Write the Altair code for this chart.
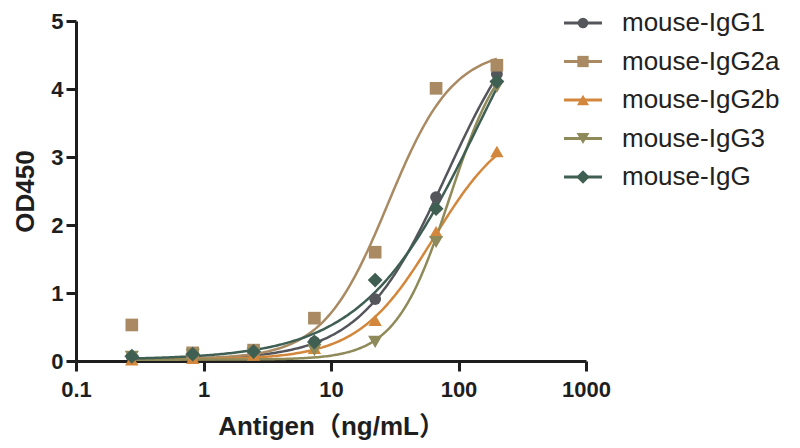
import altair as alt
import pandas as pd

# ---- data ----
series = ["mouse-IgG1", "mouse-IgG2a", "mouse-IgG2b", "mouse-IgG3", "mouse-IgG"]
conc = [0.274, 0.823, 2.47, 7.41, 22.2, 66.7, 200]
igg1 = [0.06, 0.10, 0.15, 0.28, 0.91, 2.41, 4.22]
igg2a = [0.53, 0.12, 0.16, 0.63, 1.60, 4.01, 4.35]
igg2b = [0.02, 0.04, 0.09, 0.19, 0.60, 1.90, 3.08]
igg3 = [0.06, 0.09, 0.11, 0.16, 0.28, 1.75, 4.03]
igg = [0.07, 0.10, 0.14, 0.28, 1.19, 2.24, 4.11]

# four-parameter logistic fit parameters (estimated from the drawn curves)
fit_bottom = [0.02, 0.03, 0.02, 0.02, 0.02]
fit_top = [5.5, 4.6, 3.6, 4.8, 7.0]
fit_ec50 = [81.5, 28.0, 64.0, 85.6, 147.0]
fit_hill = [1.28, 1.70, 1.46, 2.04, 0.95]
fit_xmin = [0.274] * 5
fit_xmax = [200] * 5

colors = ["#54565c", "#a98a63", "#d3873c", "#8e8a59", "#3f5f53"]
shapes = ["circle", "square", "triangle-up", "triangle-down", "diamond"]
sizes = [140, 220, 180, 180, 240]

x_ticks = [0.1, 1, 10, 100, 1000]
y_ticks = [0, 1, 2, 3, 4, 5]

FONT = "Liberation Sans, Arial, Noto Sans CJK SC"
INK = "#1e1e1e"

# ---- tables ----
vals = [igg1, igg2a, igg2b, igg3, igg]
rows = []
for s, v in zip(series, vals):
    for c, y in zip(conc, v):
        rows.append({"series": s, "conc": c, "od": y})
points_df = pd.DataFrame(rows)

params_df = pd.DataFrame({
    "series": series, "bottom": fit_bottom, "top": fit_top,
    "ec50": fit_ec50, "hill": fit_hill, "xmin": fit_xmin, "xmax": fit_xmax,
})
legend_df = pd.DataFrame({"series": series})

color = alt.Color("series:N", scale=alt.Scale(domain=series, range=colors), legend=None)

xscale = alt.Scale(type="log", domain=[0.1, 1000])
yscale = alt.Scale(domain=[0, 5], nice=False)

xaxis = alt.Axis(values=x_ticks, labelExpr="datum.value", title="Antigen（ng/mL）",
                 grid=False, labelFlush=False)
yaxis = alt.Axis(values=y_ticks, labelExpr="datum.value", title="OD450", grid=False)

curves = alt.Chart(params_df).transform_calculate(
    t="sequence(0, 1.0001, 0.005)"
).transform_flatten(["t"]).transform_calculate(
    conc="pow(10, log(datum.xmin)/LN10 + datum.t*(log(datum.xmax)/LN10 - log(datum.xmin)/LN10))"
).transform_calculate(
    od="datum.bottom + (datum.top - datum.bottom)/(1 + pow(datum.ec50/datum.conc, datum.hill))"
).mark_line(strokeWidth=2.5).encode(
    x=alt.X("conc:Q", scale=xscale, axis=xaxis),
    y=alt.Y("od:Q", scale=yscale, axis=yaxis),
    color=color,
    detail="series:N",
    order="t:Q",
)

pts = alt.Chart(points_df).mark_point(filled=True, opacity=1).encode(
    x=alt.X("conc:Q", scale=xscale),
    y=alt.Y("od:Q", scale=yscale),
    color=color,
    shape=alt.Shape("series:N", scale=alt.Scale(domain=series, range=shapes), legend=None),
    size=alt.Size("series:N", scale=alt.Scale(domain=series, range=sizes), legend=None),
)

ly = alt.Y("series:N", scale=alt.Scale(type="point", domain=series, range=[2, 156], padding=0), axis=None)
leg_line = alt.Chart(legend_df).mark_rule(strokeWidth=3).encode(
    x=alt.value(488), x2=alt.value(526), y=ly, color=color)
leg_pt = alt.Chart(legend_df).mark_point(filled=True, opacity=1).encode(
    x=alt.value(507), y=ly, color=color,
    shape=alt.Shape("series:N", scale=alt.Scale(domain=series, range=shapes), legend=None),
    size=alt.Size("series:N", scale=alt.Scale(domain=series, range=[110, 180, 150, 150, 190]), legend=None),
)
leg_txt = alt.Chart(legend_df).mark_text(align="left", baseline="middle", fontSize=26,
                                         font=FONT, color="#222222").encode(
    x=alt.value(546), y=ly, text="series:N")

main = alt.layer(curves, pts)
legend = alt.layer(leg_line, leg_pt, leg_txt)

chart = alt.layer(main, legend).resolve_scale(y="independent", size="independent").properties(
    width=510, height=340,
    autosize=alt.AutoSizeParams(type="none"),
    padding={"left": 68, "top": 13, "right": 200, "bottom": 80},
).configure_view(stroke=None).configure_axis(
    domainColor=INK, domainWidth=3, tickColor=INK, tickWidth=3, tickSize=10,
    labelFont=FONT, labelFontSize=22, labelFontWeight="bold", labelColor=INK,
    titleFont=FONT, titleFontSize=26, titleFontWeight="bold", titleColor=INK,
).configure_axisX(labelPadding=8, titlePadding=13).configure_axisY(labelPadding=3, titlePadding=12)

chart.save("out.html", embed_options={"renderer": "svg", "actions": False})
